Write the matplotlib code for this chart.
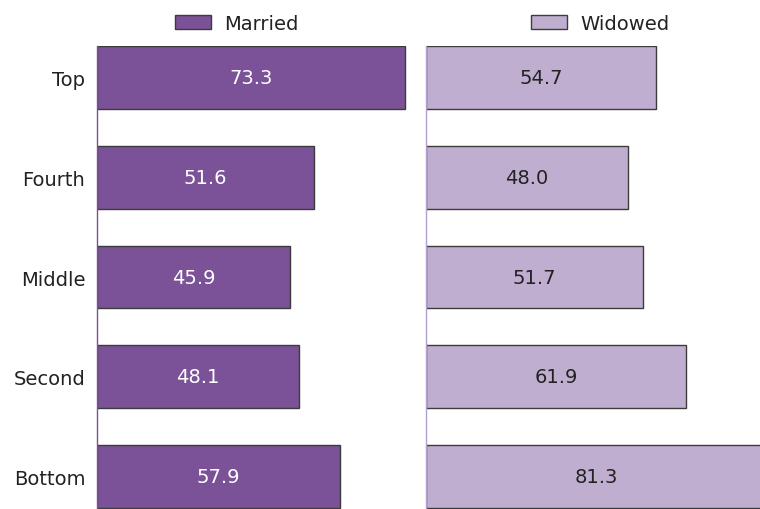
import matplotlib
matplotlib.use('Agg')
import matplotlib.pyplot as plt
from matplotlib.patches import Patch

categories = ["Bottom", "Second", "Middle", "Fourth", "Top"]
married = [57.9, 48.1, 45.9, 51.6, 73.3]
widowed = [81.3, 61.9, 51.7, 48.0, 54.7]

dark = "#7b5297"
light = "#c0aed1"
edge = "#3c3c3c"
txt = "#222222"

plt.rcParams['font.family'] = ['DejaVu Sans']
fs = 14

W, H = 760, 510
fig = plt.figure(figsize=(W / 100, H / 100), dpi=100)

# axes in pixel coords: left, top, right, bottom
def px_axes(x0, y0, x1, y1):
	return fig.add_axes([x0 / W, 1 - y1 / H, (x1 - x0) / W, (y1 - y0) / H])

ax1 = px_axes(97, 47, 412, 510)
ax2 = px_axes(426, 47, 760, 510)

ypos = list(range(len(categories)))

for ax, vals, col, lab_col, xmax, spine_col in [
		(ax1, married, dark, "white", 75, dark),
		(ax2, widowed, light, txt, 79.5, "#b49fcc")]:
	bars = ax.barh(ypos, vals, height=0.63, color=col, edgecolor=edge, linewidth=1.0)
	for b, v in zip(bars, vals):
		ax.text(v / 2, b.get_y() + b.get_height() / 2, "%.1f" % v,
			ha='center', va='center', color=lab_col, fontsize=fs)
	ax.set_xlim(0, xmax)
	ax.set_ylim(-0.33, 4.32)
	ax.set_xticks([])
	for s in ['top', 'right', 'bottom']:
		ax.spines[s].set_visible(False)
	ax.spines['left'].set_color(spine_col)
	ax.spines['left'].set_linewidth(1.0)

ax1.set_yticks(ypos)
ax1.set_yticklabels(categories, fontsize=fs, color=txt)
ax1.tick_params(axis='y', length=0, pad=8.5)
ax2.set_yticks([])

for ax, col, name, x in [(ax1, dark, "Married", 175), (ax2, light, "Widowed", 531)]:
	ax.legend(handles=[Patch(facecolor=col, edgecolor=edge, linewidth=1.0, label=name)],
		loc='center left', bbox_to_anchor=(x / W, 1 - 24.5 / H), bbox_transform=fig.transFigure,
		frameon=False, borderpad=0, borderaxespad=0, handlelength=1.85, handleheight=0.77,
		handletextpad=0.67, fontsize=fs, labelcolor=txt)

fig.savefig("out.png", dpi=100)
plt.close()
